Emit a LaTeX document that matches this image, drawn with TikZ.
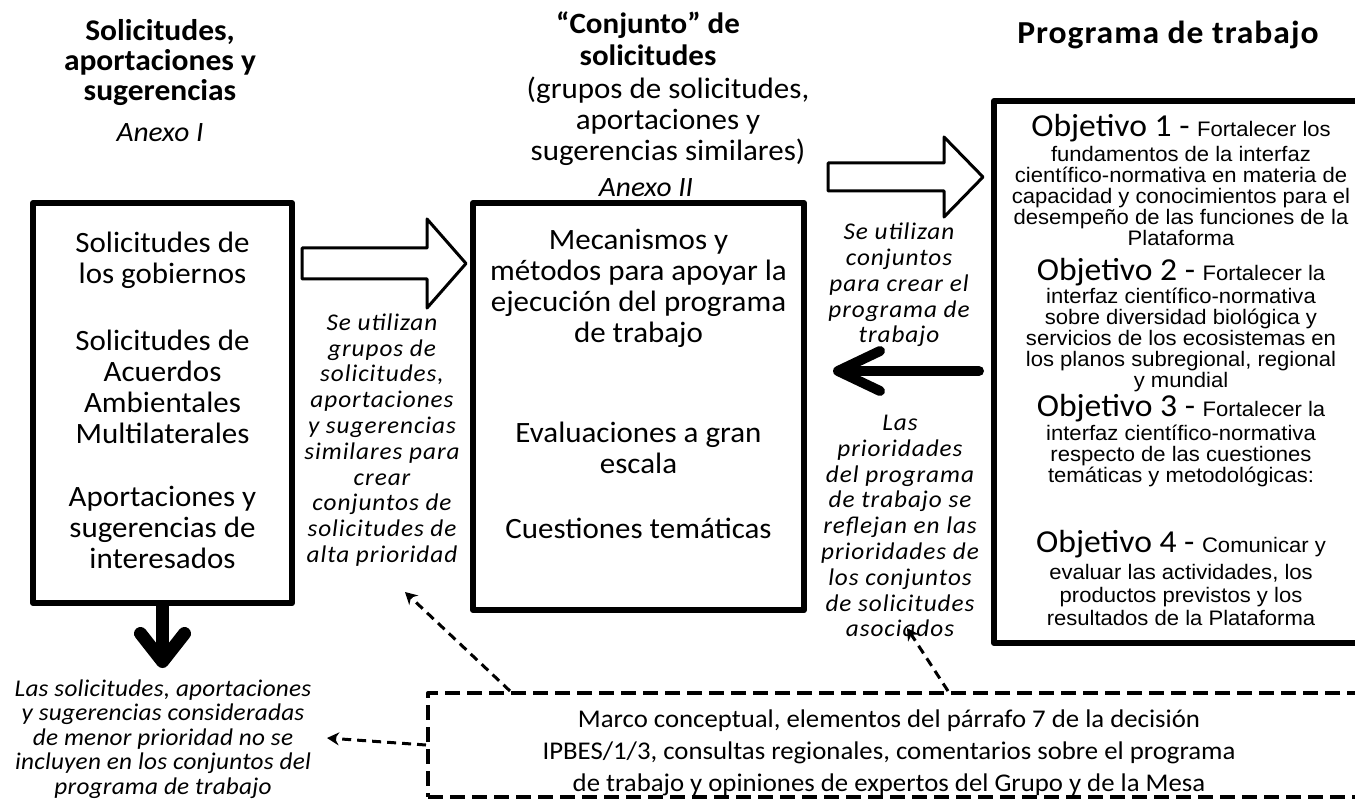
\documentclass[tikz,border=0pt]{standalone}
\usepackage{fontspec}
\setmainfont{Carlito}[FakeStretch=1.05]
\newfontfamily\arialfont{Liberation Sans}[FakeStretch=1.05]
\usetikzlibrary{arrows.meta,positioning,shadows}
\newcommand{\setfs}[2]{\fontsize{#1}{#2}\selectfont}

\begin{document}
\begin{tikzpicture}[x=1pt, y=-1pt, line join=round,
  frame/.style={draw, line width=6pt, fill=white, inner sep=0pt,
    drop shadow={shadow xshift=2pt, shadow yshift=-3pt, opacity=.25}},
  bodytxt/.style={align=center, inner sep=0pt, font=\setfs{29.5}{31}},
  headtxt/.style={align=center, inner sep=0pt, font=\bfseries\setfs{30}{30}},
  anexo/.style={inner sep=0pt, font=\itshape\setfs{28}{30}},
  notetxt/.style={align=center, inner sep=0pt, font=\itshape\setfs{24}{25.8}\addfontfeatures{LetterSpace=4}},
  lowstyle/.style={align=center, inner sep=0pt, font=\itshape\setfs{24}{24.5}\addfontfeatures{LetterSpace=1}},
  objhd/.style={inner sep=0pt},
  objtxt/.style={align=center, inner sep=0pt, font=\arialfont\setfs{21}{20.8}},
  hollow/.style={draw, line width=3pt, fill=white},
  dasharr/.style={line width=3pt, dash pattern=on 9pt off 6pt, -{Stealth[length=12pt, width=13pt]}}]
\path[clip] (0,0) rectangle (1355,802);
% encabezados
\node[headtxt] (lhead) at (160,63) {Solicitudes,\\aportaciones y\\sugerencias};
\node[anexo] (lanexo) at (160,133) {Anexo I};
\node[headtxt, font=\bfseries\setfs{29.5}{32}] (mhead) at (648,39) {“Conjunto” de\\solicitudes};
\node[bodytxt, font=\setfs{29.5}{31}] (msub) at (668,121) {(grupos de solicitudes,\\aportaciones y\\sugerencias similares)};
\node[anexo] (manexo) at (646,188) {Anexo II};
\node[headtxt, font=\bfseries\setfs{32}{33}\addfontfeatures{LetterSpace=3}] (rhead) at (1168,35) {Programa de trabajo};
% cajas
\node[frame, minimum width=259pt, minimum height=400pt] (lbox) at (162.5,403) {};
\node[frame, minimum width=331pt, minimum height=407pt] (mbox) at (638.5,406.5) {};
\node[frame, minimum width=376pt, minimum height=542pt] (rbox) at (1182,372) {};
% caja izquierda
\node[bodytxt] (lreq1) at (162.5,260) {Solicitudes de\\los gobiernos};
\node[bodytxt] (lreq2) at (162.5,387) {Solicitudes de\\Acuerdos\\Ambientales\\Multilaterales};
\node[bodytxt] (lreq3) at (162.5,527) {Aportaciones y\\sugerencias de\\interesados};
% caja central
\node[bodytxt] (mmech) at (638.5,288) {Mecanismos y\\métodos para apoyar la\\ejecución del programa\\de trabajo};
\node[bodytxt] (meval) at (638.5,448) {Evaluaciones a gran\\escala};
\node[bodytxt] (mtema) at (638.5,528) {Cuestiones temáticas};
% caja derecha
\node[objhd] (obj1) at (1181,128) {{\setfs{32}{32}Objetivo 1 -~}{\arialfont\setfs{21}{22}Fortalecer los}};
\node[objtxt] (obj1t) at (1181,196) {fundamentos de la interfaz\\científico-normativa en materia de\\capacidad y conocimientos para el\\desempeño de las funciones de la\\Plataforma};
\node[objhd] (obj2) at (1181,272) {{\setfs{32}{32}Objetivo 2 -~}{\arialfont\setfs{21}{22}Fortalecer la}};
\node[objtxt] (obj2t) at (1181,340) {interfaz científico-normativa\\sobre diversidad biológica y\\servicios de los ecosistemas en\\los planos subregional, regional\\y mundial};
\node[objhd] (obj3) at (1181,408) {{\setfs{32}{32}Objetivo 3 -~}{\arialfont\setfs{21}{22}Fortalecer la}};
\node[objtxt] (obj3t) at (1181,456) {interfaz científico-normativa\\respecto de las cuestiones\\temáticas y metodológicas:};
\node[objhd] (obj4) at (1181,544) {{\setfs{32}{32}Objetivo 4 -~}{\arialfont\setfs{21}{22}Comunicar y}};
\node[objtxt, font=\arialfont\setfs{21}{23}] (obj4t) at (1181,595) {evaluar las actividades, los\\productos previstos y los\\resultados de la Plataforma};
% notas
\node[notetxt] (usetxt) at (382,440) {Se utilizan\\grupos de\\solicitudes,\\aportaciones\\y sugerencias\\similares para\\crear\\conjuntos de\\solicitudes de\\alta prioridad};
\node[notetxt] (creatxt) at (899,285) {Se utilizan\\conjuntos\\para crear el\\programa de\\trabajo};
\node[notetxt] (priotxt) at (900,526) {Las\\prioridades\\del programa\\de trabajo se\\reflejan en las\\prioridades de\\los conjuntos\\de solicitudes\\asociados};
\node[lowstyle] (lowtxt) at (163,739) {Las solicitudes, aportaciones\\y sugerencias consideradas\\de menor prioridad no se\\incluyen en los conjuntos del\\programa de trabajo};
% marco
\node[draw, line width=4pt, dash pattern=on 15pt off 7pt, minimum width=932pt, minimum height=104pt, inner sep=0pt] (marco) at (894,745) {};
\node[bodytxt, font=\setfs{25.5}{32}] (marcotxt) at (889,753) {Marco conceptual, elementos del párrafo 7 de la decisión\\IPBES/1/3, consultas regionales, comentarios sobre el programa\\de trabajo y opiniones de expertos del Grupo y de la Mesa};
% flechas
\draw[hollow] (302,248) -- (427,248) -- (427,219) -- (466,263.5) -- (427,308) -- (427,279) -- (302,279) -- cycle;
\draw[hollow] (828,163) -- (944,163) -- (944,137) -- (983,177) -- (944,217) -- (944,191) -- (828,191) -- cycle;
\draw[line width=10pt, line cap=round, -{Straight Barb[line cap=round, line join=round, length=42pt, width=40pt]}]
  ([xshift=-12pt]rbox.west |- 0,371) -- ([xshift=26pt]mbox.east |- 0,371);
\draw[line width=13pt, -{Straight Barb[line cap=round, line join=round, length=28pt, width=44pt]}]
  (lbox.south) -- ++(0,62);
\coordinate (lowtip) at (327,738);
\coordinate (usetip) at (405,592);
\coordinate (priotip) at (907,628);
\draw[dasharr] (marco.west) -- (lowtip);
\draw[dasharr] ([xshift=84pt]marco.north west) -- (usetip);
\draw[dasharr] ([xshift=522pt]marco.north west) -- (priotip);
\end{tikzpicture}
\end{document}
